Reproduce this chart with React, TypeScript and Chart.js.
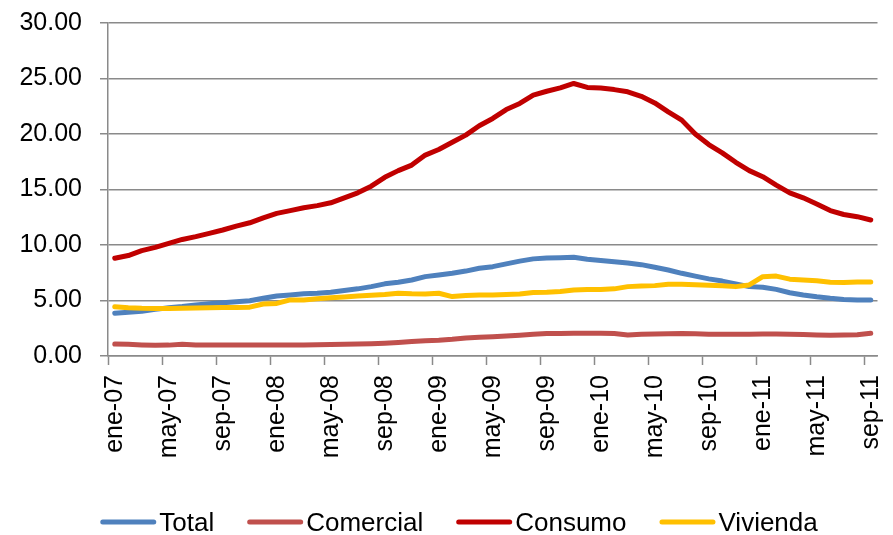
import React, { useEffect, useRef } from "react";
import { Chart, registerables } from "chart.js";

Chart.register(...registerables);

const monthNames = ["ene", "feb", "mar", "abr", "may", "jun", "jul", "ago", "sep", "oct", "nov", "dic"];
const yearSuffixes = ["07", "08", "09", "10", "11"];
const lastMonthIndex = 8; // sep-11

const categories: string[] = [];
yearSuffixes.forEach((y, yi) => {
  monthNames.forEach((m, mi) => {
    if (yi === yearSuffixes.length - 1 && mi > lastMonthIndex) return;
    categories.push(`${m}-${y}`);
  });
});

const seriesNames = ["Total", "Comercial", "Consumo", "Vivienda"];
const seriesColors = ["#4F81BD", "#C0504D", "#C00000", "#FFC000"];

const total = [
  3.85, 3.95, 4.02, 4.2, 4.35, 4.45, 4.6, 4.7, 4.8, 4.88,
  4.98, 5.2, 5.4, 5.5, 5.6, 5.65, 5.75, 5.9, 6.05, 6.25,
  6.5, 6.65, 6.85, 7.15, 7.3, 7.45, 7.65, 7.9, 8.05, 8.3,
  8.55, 8.75, 8.82, 8.85, 8.89, 8.72, 8.6, 8.5, 8.38, 8.23,
  8.0, 7.75, 7.45, 7.2, 6.95, 6.75, 6.5, 6.25, 6.2, 6.0,
  5.7, 5.5, 5.33, 5.2, 5.1, 5.05, 5.05,
];

const comercial = [
  1.08, 1.05, 1.0, 0.97, 0.98, 1.05, 1.0, 0.99, 0.99, 1.0,
  1.0, 1.0, 1.0, 1.0, 1.0, 1.02, 1.03, 1.05, 1.07, 1.1,
  1.15, 1.22, 1.3, 1.38, 1.42, 1.5, 1.63, 1.68, 1.74, 1.8,
  1.88, 1.95, 2.02, 2.03, 2.04, 2.04, 2.04, 2.02, 1.9, 1.95,
  1.98, 2.0, 2.03, 2.0, 1.97, 1.95, 1.95, 1.97, 1.98, 1.98,
  1.95, 1.93, 1.9, 1.88, 1.9, 1.92, 2.04,
];

const consumo = [
  8.8, 9.05, 9.49, 9.79, 10.15, 10.5, 10.75, 11.05, 11.35, 11.7,
  12.0, 12.45, 12.85, 13.1, 13.35, 13.55, 13.8, 14.25, 14.7, 15.3,
  16.1, 16.7, 17.2, 18.1, 18.6, 19.25, 19.9, 20.75, 21.4, 22.2,
  22.75, 23.5, 23.85, 24.15, 24.55, 24.2, 24.14, 24.0, 23.8, 23.4,
  22.8, 22.0, 21.25, 20.0, 19.05, 18.3, 17.45, 16.7, 16.15, 15.4,
  14.7, 14.25, 13.7, 13.1, 12.75, 12.55, 12.25,
];

const vivienda = [
  4.44, 4.35, 4.3, 4.28, 4.29, 4.3, 4.33, 4.35, 4.36, 4.37,
  4.4, 4.68, 4.74, 5.05, 5.05, 5.15, 5.25, 5.32, 5.4, 5.48,
  5.55, 5.65, 5.6, 5.58, 5.65, 5.35, 5.45, 5.5, 5.5, 5.55,
  5.58, 5.72, 5.75, 5.82, 5.95, 5.98, 6.0, 6.05, 6.25, 6.3,
  6.34, 6.46, 6.46, 6.42, 6.37, 6.32, 6.25, 6.4, 7.15, 7.2,
  6.92, 6.85, 6.78, 6.65, 6.62, 6.67, 6.67,
];

const seriesValues = [total, comercial, consumo, vivienda];

const yMin = 0;
const yMax = 30;
const yStep = 5;
const labelEvery = 4;

const FONT_FAMILY = "'Liberation Sans', Arial, sans-serif";
const GRID_COLOR = "#8A8A8A";

const legendPlugin = {
  id: "customLegend",
  afterDraw(chart: any) {
    const ctx = chart.ctx as CanvasRenderingContext2D;
    ctx.save();
    ctx.font = `26px ${FONT_FAMILY}`;
    const swatch = 56;
    const gapText = 3;
    const gapItem = 33;
    const items = chart.data.datasets.map((d: any) => ({
      label: d.label as string,
      color: d.borderColor as string,
      w: ctx.measureText(d.label).width,
    }));
    const width =
      items.reduce((s: number, it: any) => s + swatch + gapText + it.w, 0) +
      gapItem * (items.length - 1);
    let x = 459 - width / 2;
    const yLine = 522;
    const yText = 531;
    for (const it of items) {
      ctx.strokeStyle = it.color;
      ctx.lineWidth = 5;
      ctx.lineCap = "round";
      ctx.beginPath();
      ctx.moveTo(x + 2.5, yLine);
      ctx.lineTo(x + swatch - 2.5, yLine);
      ctx.stroke();
      x += swatch + gapText;
      ctx.fillStyle = "#000";
      ctx.textBaseline = "alphabetic";
      ctx.textAlign = "left";
      ctx.fillText(it.label, x, yText);
      x += it.w + gapItem;
    }
    ctx.restore();
  },
};

function zeroPadding(scale: any) {
  scale.paddingLeft = 0;
  scale.paddingRight = 0;
  scale.paddingTop = 0;
  scale.paddingBottom = 0;
}

export default function App() {
  const canvasRef = useRef<HTMLCanvasElement | null>(null);

  useEffect(() => {
    document.body.style.margin = "0";
    const canvas = canvasRef.current;
    if (!canvas) return;
    const chart = new Chart(canvas, {
      type: "line",
      data: {
        labels: categories,
        datasets: seriesNames.map((name, i) => ({
          label: name,
          data: seriesValues[i],
          borderColor: seriesColors[i],
          backgroundColor: seriesColors[i],
          borderWidth: 5,
          borderCapStyle: "round" as const,
          borderJoinStyle: "round" as const,
          pointRadius: 0,
          pointHoverRadius: 0,
          tension: 0,
          fill: false,
          order: seriesNames.length - i,
        })),
      },
      options: {
        animation: false,
        responsive: true,
        maintainAspectRatio: false,
        devicePixelRatio: 1,
        layout: {
          padding: { left: 19, right: 15.5, top: 23, bottom: 78 },
        },
        plugins: {
          legend: { display: false },
          tooltip: { enabled: false },
        },
        scales: {
          x: {
            type: "category",
            offset: true,
            afterFit: (scale: any) => {
              scale.height = 101;
              zeroPadding(scale);
            },
            grid: {
              offset: true,
              drawOnChartArea: false,
              drawTicks: true,
              tickLength: 9,
              tickWidth: 1.5,
              tickColor: (ctx: any) =>
                typeof ctx.index === "number" && ctx.index % labelEvery === 0 ? GRID_COLOR : "rgba(0,0,0,0)",
              color: GRID_COLOR,
            },
            border: { display: true, color: GRID_COLOR, width: 1.5 },
            ticks: {
              autoSkip: false,
              minRotation: 90,
              maxRotation: 90,
              padding: 10,
              color: "#000",
              font: { family: FONT_FAMILY, size: 25 },
              callback: function (this: any, _v: any, index: number) {
                return index % labelEvery === 0 ? categories[index] : "";
              },
            },
          },
          y: {
            min: yMin,
            max: yMax,
            afterFit: (scale: any) => {
              scale.width = 89;
              zeroPadding(scale);
            },
            grid: {
              color: GRID_COLOR,
              lineWidth: 1.5,
              drawTicks: true,
              tickLength: 8,
            },
            border: { display: true, color: GRID_COLOR, width: 1.5 },
            ticks: {
              stepSize: yStep,
              padding: 18,
              color: "#000",
              font: { family: FONT_FAMILY, size: 25 },
              callback: (v: any) => Number(v).toFixed(2),
            },
          },
        },
      },
      plugins: [legendPlugin],
    });
    return () => chart.destroy();
  }, []);

  return (
    <div style={{ width: 893, height: 535, position: "relative" }}>
      <canvas ref={canvasRef} />
    </div>
  );
}
